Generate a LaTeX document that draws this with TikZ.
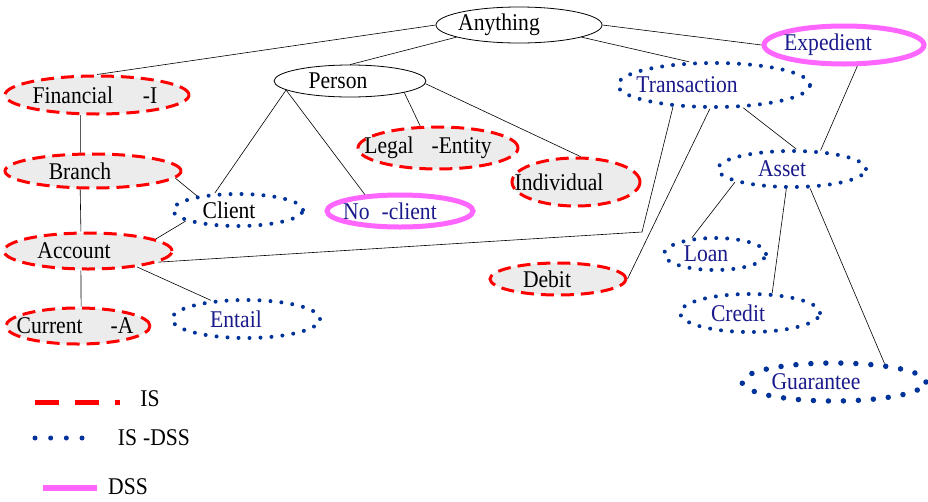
\documentclass[tikz,border=0pt]{standalone}
\usepackage{fontspec}
\setmainfont{Liberation Serif}
\newfontfamily\narrowserif[FakeStretch=0.9]{Liberation Serif}
\usetikzlibrary{shapes.geometric}
\definecolor{isred}{RGB}{255,0,0}
\definecolor{dssblue}{RGB}{0,51,153}
\definecolor{txtblue}{RGB}{26,26,140}
\definecolor{dsspink}{RGB}{255,102,255}
\definecolor{shade}{RGB}{236,236,236}
\tikzset{
  lbl/.style={font=\narrowserif\fontsize{24}{28}\selectfont, inner sep=0pt},
  blbl/.style={lbl, text=txtblue},
  base/.style={ellipse, inner sep=0pt},
  sz/.style 2 args={minimum width=#1pt, minimum height=#2pt},
  plain/.style={base, draw=black, line width=0.8pt, fill=white},
  isnode/.style={base, draw=isred, fill=shade, line width=3pt, dash pattern=on 13pt off 7pt},
  isdss/.style={base, draw=dssblue, fill=white, line width=4pt, line cap=round, dash pattern=on 0pt off 11pt},
  isdssbig/.style={isdss, line width=5.5pt, dash pattern=on 0pt off 15pt},
  dss/.style={base, draw=dsspink, fill=white, line width=5pt},
  link/.style={draw=black, line width=0.6pt},
}
\begin{document}
\begin{tikzpicture}[x=1pt, y=-1pt]
\fill[white] (0,0) rectangle (928,501);
\useasboundingbox (0,0) rectangle (928,501);

% nodes
\node[plain, sz={166}{36}, label={[lbl, xshift=-20pt]center:Anything}] (any) at (519,25) {};
\node[plain, sz={152}{32}, label={[lbl, xshift=-12pt]center:Person}] (per) at (350,81) {};
\node[isnode, sz={184}{38}, label={[lbl, xshift=-2pt]center:Financial\hspace{30pt}-I}] (fin) at (97,95) {};
\node[isnode, sz={176}{34}, label={[lbl, xshift=-13pt]center:Branch}] (bra) at (93,171) {};
\node[isnode, sz={168}{36}, label={[lbl, xshift=-14pt]center:Account}] (acc) at (88,251) {};
\node[isnode, sz={144}{36}, label={[lbl, xshift=-3pt]center:Current\hspace{28pt}-A}] (cur) at (78,326) {};
\node[isdss, sz={130}{32}, label={[lbl, xshift=-9pt]center:Client}] (cli) at (238,210) {};
\node[isdss, sz={148}{38}, label={[blbl, xshift=-10pt]center:Entail}] (ent) at (246,319) {};
\node[dss, sz={146}{32}, label={[blbl, xshift=-10pt]center:No\hspace{12pt}-client}] (nocl) at (400,211) {};
\node[isnode, sz={160}{42}, label={[lbl, xshift=-10pt]center:Legal\hspace{18pt}-Entity}] (leg) at (438,148) {};
\node[isnode, sz={128}{48}, label={[lbl, xshift=-17pt]center:Individual}] (ind) at (576,182) {};
\node[isdss, sz={192}{44}, label={[blbl, xshift=-27pt]center:Transaction}] (tra) at (714,85) {};
\node[dss, sz={160}{38}, label={[blbl, xshift=-16pt]center:Expedient}] (exp) at (844,45) {};
\node[isdss, sz={148}{36}, label={[blbl, xshift=-10pt]center:Asset}] (ass) at (792,169) {};
\node[isnode, sz={136}{32}, label={[lbl, xshift=-11pt]center:Debit}] (deb) at (558,279) {};
\node[isdss, sz={102}{32}, label={[blbl, xshift=-9pt]center:Loan}] (loa) at (715,254) {};
\node[isdss, sz={140}{38}, label={[blbl, xshift=-12pt]center:Credit}] (cre) at (750,313) {};
\node[isdssbig, sz={184}{38}, label={[blbl, xshift=-18pt]center:Guarantee}] (gua) at (834,382) {};

% connectors
\draw[link] (any.west) -- (fin.north);
\draw[link] (any.191) -- (per.north);
\draw[link] (any.east) -- (exp.west);
\draw[link] (any.349) -- (tra.137);
\draw[link] (per.188) -- (cli.144);
\draw[link] (per.188) -- (nocl.155);
\draw[link] (per.348) -- (leg.129);
\draw[link] (per.358) -- (ind.80);
\draw[link] (fin.231) -- (bra.124);
\draw[link] (bra.235) -- (acc.110);
\draw[link] (acc.250) -- (cur.81);
\draw[link] (bra.355) -- (cli.161);
\draw[link] (cli.192) -- (acc.10);
\draw[link] (acc.342) -- (ent.152);
\coordinate (bend) at (642,232);
\draw[link] (acc.351) -- (bend) -- (tra.208);
\draw[link] (tra.260) -- (deb.east);
\draw[link] (tra.322) -- (ass.78);
\draw[link] (exp.302) -- (ass.33);
\draw[link] (ass.193) -- (loa.145);
\draw[link] (ass.254) -- (cre.42);
\draw[link] (ass.313) -- (gua.20);

% legend
\coordinate (l1a) at (35,402);
\coordinate (l1b) at (120,402);
\coordinate (l2a) at (35,438);
\coordinate (l2b) at (82.5,438);
\coordinate (l3a) at (43,488);
\coordinate (l3b) at (97,488);
\draw[isred, line width=5pt, dash pattern=on 24pt off 16pt] (l1a) -- (l1b);
\draw[dssblue, line width=5pt, line cap=round, dash pattern=on 0pt off 15.67pt] (l2a) -- (l2b);
\draw[dsspink, line width=5.5pt] (l3a) -- (l3b);
\node[lbl] (legis) at (150,399) {IS};
\node[lbl] (legisdss) at (154,438) {IS\hspace{6pt}-DSS};
\node[lbl] (legdss) at (128,487) {DSS};
\end{tikzpicture}
\end{document}
